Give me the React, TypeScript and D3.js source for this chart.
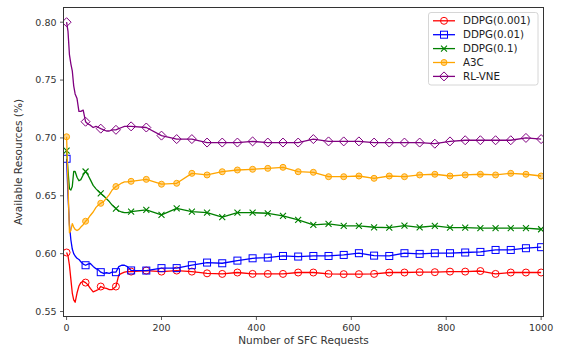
import * as d3 from 'd3';

// x positions (dense at start where the curves move fast)
const X = [0, 3, 6, 9, 12, 15, 18, 22, 26, 30, 35, 40, 45, 50, 56, 62, 67, 72, 78, 84, 90, 96, 104, 110, 116, 122, 128, 136,
  168, 200, 232, 264, 296, 328, 360, 392, 424, 456, 488, 520, 552, 584, 616, 648, 680, 712, 744, 776, 808, 840, 872, 904, 936, 968, 1000];

const ddpg001 = [0.601, 0.598, 0.590, 0.578, 0.566, 0.560, 0.558, 0.566, 0.572, 0.575, 0.576, 0.575, 0.573, 0.570, 0.567, 0.568, 0.569, 0.5716, 0.5705, 0.570, 0.569, 0.569, 0.5716, 0.5817, 0.583, 0.584, 0.5845, 0.5845,
  0.5854, 0.5845, 0.5854, 0.5845, 0.583, 0.5825, 0.5837, 0.5825, 0.5825, 0.5825, 0.5837, 0.5837, 0.5825, 0.5823, 0.5823, 0.5825, 0.5837, 0.5837, 0.584, 0.584, 0.5845, 0.5845, 0.585, 0.5825, 0.5837, 0.5837, 0.5837];

const ddpg01 = [0.682, 0.650, 0.625, 0.612, 0.604, 0.600, 0.598, 0.596, 0.595, 0.593, 0.591, 0.590, 0.591, 0.5915, 0.589, 0.587, 0.586, 0.584, 0.583, 0.5835, 0.583, 0.584, 0.584, 0.5888, 0.590, 0.590, 0.5888, 0.5855,
  0.5854, 0.5875, 0.5875, 0.590, 0.5923, 0.5917, 0.594, 0.596, 0.5966, 0.598, 0.5975, 0.598, 0.598, 0.5989, 0.6004, 0.5983, 0.598, 0.6004, 0.5998, 0.6004, 0.6004, 0.601, 0.6015, 0.6032, 0.6032, 0.6047, 0.6056];

const ddpg1 = [0.689, 0.672, 0.656, 0.655, 0.658, 0.671, 0.671, 0.666, 0.663, 0.664, 0.668, 0.671, 0.668, 0.664, 0.659, 0.656, 0.654, 0.652, 0.650, 0.6475, 0.645, 0.642, 0.639, 0.637, 0.636, 0.6355, 0.6355, 0.6363,
  0.6378, 0.6335, 0.6392, 0.6363, 0.6354, 0.6315, 0.6354, 0.6354, 0.6349, 0.6326, 0.6291, 0.6248, 0.6257, 0.624, 0.624, 0.6228, 0.6225, 0.6242, 0.6228, 0.624, 0.6225, 0.6225, 0.622, 0.622, 0.622, 0.622, 0.6211];

const a3c = [0.701, 0.660, 0.618, 0.620, 0.626, 0.623, 0.621, 0.620, 0.621, 0.623, 0.625, 0.628, 0.630, 0.633, 0.636, 0.640, 0.642, 0.6435, 0.645, 0.648, 0.651, 0.655, 0.658, 0.6593, 0.661, 0.662, 0.662, 0.6625,
  0.6642, 0.660, 0.6608, 0.6694, 0.668, 0.6708, 0.6723, 0.6729, 0.6737, 0.6746, 0.6708, 0.6703, 0.6665, 0.6665, 0.6671, 0.6651, 0.6671, 0.6665, 0.668, 0.6686, 0.6671, 0.668, 0.6686, 0.668, 0.6694, 0.6686, 0.6671];

const rlvne = [0.800, 0.792, 0.772, 0.764, 0.758, 0.745, 0.738, 0.734, 0.723, 0.723, 0.724, 0.714, 0.712, 0.711, 0.709, 0.710, 0.709, 0.708, 0.707, 0.706, 0.706, 0.707, 0.707, 0.708, 0.709, 0.710, 0.710, 0.710,
  0.709, 0.702, 0.699, 0.699, 0.696, 0.696, 0.696, 0.697, 0.696, 0.696, 0.696, 0.699, 0.697, 0.697, 0.697, 0.696, 0.696, 0.696, 0.696, 0.695, 0.697, 0.698, 0.698, 0.698, 0.698, 0.700, 0.699];

const series = [
  { name: 'DDPG(0.001)', values: ddpg001, color: '#ff0000', marker: 'circle' },
  { name: 'DDPG(0.01)', values: ddpg01, color: '#0000ff', marker: 'square' },
  { name: 'DDPG(0.1)', values: ddpg1, color: '#008000', marker: 'x' },
  { name: 'A3C', values: a3c, color: '#ffa500', marker: 'dot' },
  { name: 'RL-VNE', values: rlvne, color: '#800080', marker: 'diamond' },
];

const xTicks = [0, 200, 400, 600, 800, 1000];
const yTicks = [0.55, 0.6, 0.65, 0.7, 0.75, 0.8];

const W = 563;
const H = 349;
const margin = { top: 7.5, right: 19.5, bottom: 32.5, left: 63.5 };
const FONT = 'DejaVu Sans, sans-serif';

// markers every 32 requests after the first one
const isMarked = (v: number) => v === 0 || (v >= 40 && (v - 40) % 32 === 0);

function Marker({ kind, cx, cy, color }: { kind: string; cx: number; cy: number; color: string }) {
  if (kind === 'circle') return <circle cx={cx} cy={cy} r={3.5} fill="none" stroke={color} strokeWidth={1} />;
  if (kind === 'square') return <rect x={cx - 3.5} y={cy - 3.5} width={7} height={7} fill="none" stroke={color} strokeWidth={1} />;
  if (kind === 'x')
    return (
      <path d={`M${cx - 3},${cy - 3}L${cx + 3},${cy + 3}M${cx - 3},${cy + 3}L${cx + 3},${cy - 3}`} stroke={color} strokeWidth={1.1} />
    );
  if (kind === 'dot') return <circle cx={cx} cy={cy} r={3} fill={color} fillOpacity={0.45} stroke={color} strokeWidth={1} />;
  return <path d={`M${cx},${cy - 4.5}L${cx + 4.5},${cy}L${cx},${cy + 4.5}L${cx - 4.5},${cy}Z`} fill="none" stroke={color} strokeWidth={1} />;
}

export default function App() {
  const x = d3.scaleLinear().domain([-6.5, 1005]).range([margin.left, W - margin.right]);
  const y = d3.scaleLinear().domain([0.5457, 0.8127]).range([H - margin.bottom, margin.top]);
  const line = d3
    .line<number>()
    .x((_, i) => x(X[i]))
    .y((d) => y(d));

  const left = margin.left;
  const right = W - margin.right;
  const top = margin.top;
  const bottom = H - margin.bottom;

  const legendX = 428.5;
  const legendY = 12.5;
  const rowH = 13.9;

  return (
    <svg width={W} height={H} style={{ position: 'absolute', left: 0, top: 0, background: '#fff' }} fontFamily={FONT}>
      <defs>
        <clipPath id="plot">
          <rect x={left} y={top} width={right - left} height={bottom - top} />
        </clipPath>
      </defs>

      <g clipPath="url(#plot)">
        {series.map((s) => (
          <g key={s.name}>
            <path d={line(s.values) || ''} fill="none" stroke={s.color} strokeWidth={1.3} strokeLinejoin="round" />
            {s.values.map((v, i) =>
              isMarked(X[i]) ? <Marker key={i} kind={s.marker} cx={x(X[i])} cy={y(v)} color={s.color} /> : null
            )}
          </g>
        ))}
      </g>

      {/* frame */}
      <rect x={left} y={top} width={right - left} height={bottom - top} fill="none" stroke="#333" strokeWidth={1} />

      {/* x axis */}
      {xTicks.map((t) => (
        <g key={t}>
          <line x1={x(t)} x2={x(t)} y1={bottom} y2={bottom + 3.5} stroke="#333" strokeWidth={0.8} />
          <text x={x(t)} y={bottom + 14.5} fontSize={9.5} textAnchor="middle" fill="#333">
            {t}
          </text>
        </g>
      ))}
      <text x={(left + right) / 2} y={H - 5} fontSize={10.5} textAnchor="middle" fill="#333">
        Number of SFC Requests
      </text>

      {/* y axis */}
      {yTicks.map((t) => (
        <g key={t}>
          <line x1={left - 3.5} x2={left} y1={y(t)} y2={y(t)} stroke="#333" strokeWidth={0.8} />
          <text x={left - 7} y={y(t) + 3.4} fontSize={9.5} textAnchor="end" fill="#333">
            {t.toFixed(2)}
          </text>
        </g>
      ))}
      <text
        transform={`translate(${22},${(top + bottom) / 2}) rotate(-90)`}
        fontSize={10.5}
        textAnchor="middle"
        fill="#333"
      >
        Available Resources (%)
      </text>

      {/* legend */}
      <rect x={legendX} y={legendY} width={109.5} height={72.5} rx={2.5} fill="#fff" fillOpacity={0.8} stroke="#ccc" strokeWidth={0.8} />
      {series.map((s, i) => {
        const ly = legendY + 8.3 + i * rowH;
        return (
          <g key={s.name}>
            <line x1={legendX + 4.5} x2={legendX + 26.5} y1={ly} y2={ly} stroke={s.color} strokeWidth={1.3} />
            <Marker kind={s.marker} cx={legendX + 15.5} cy={ly} color={s.color} />
            <text x={legendX + 34.5} y={ly + 3.6} fontSize={10.3} fill="#222">
              {s.name}
            </text>
          </g>
        );
      })}
    </svg>
  );
}
